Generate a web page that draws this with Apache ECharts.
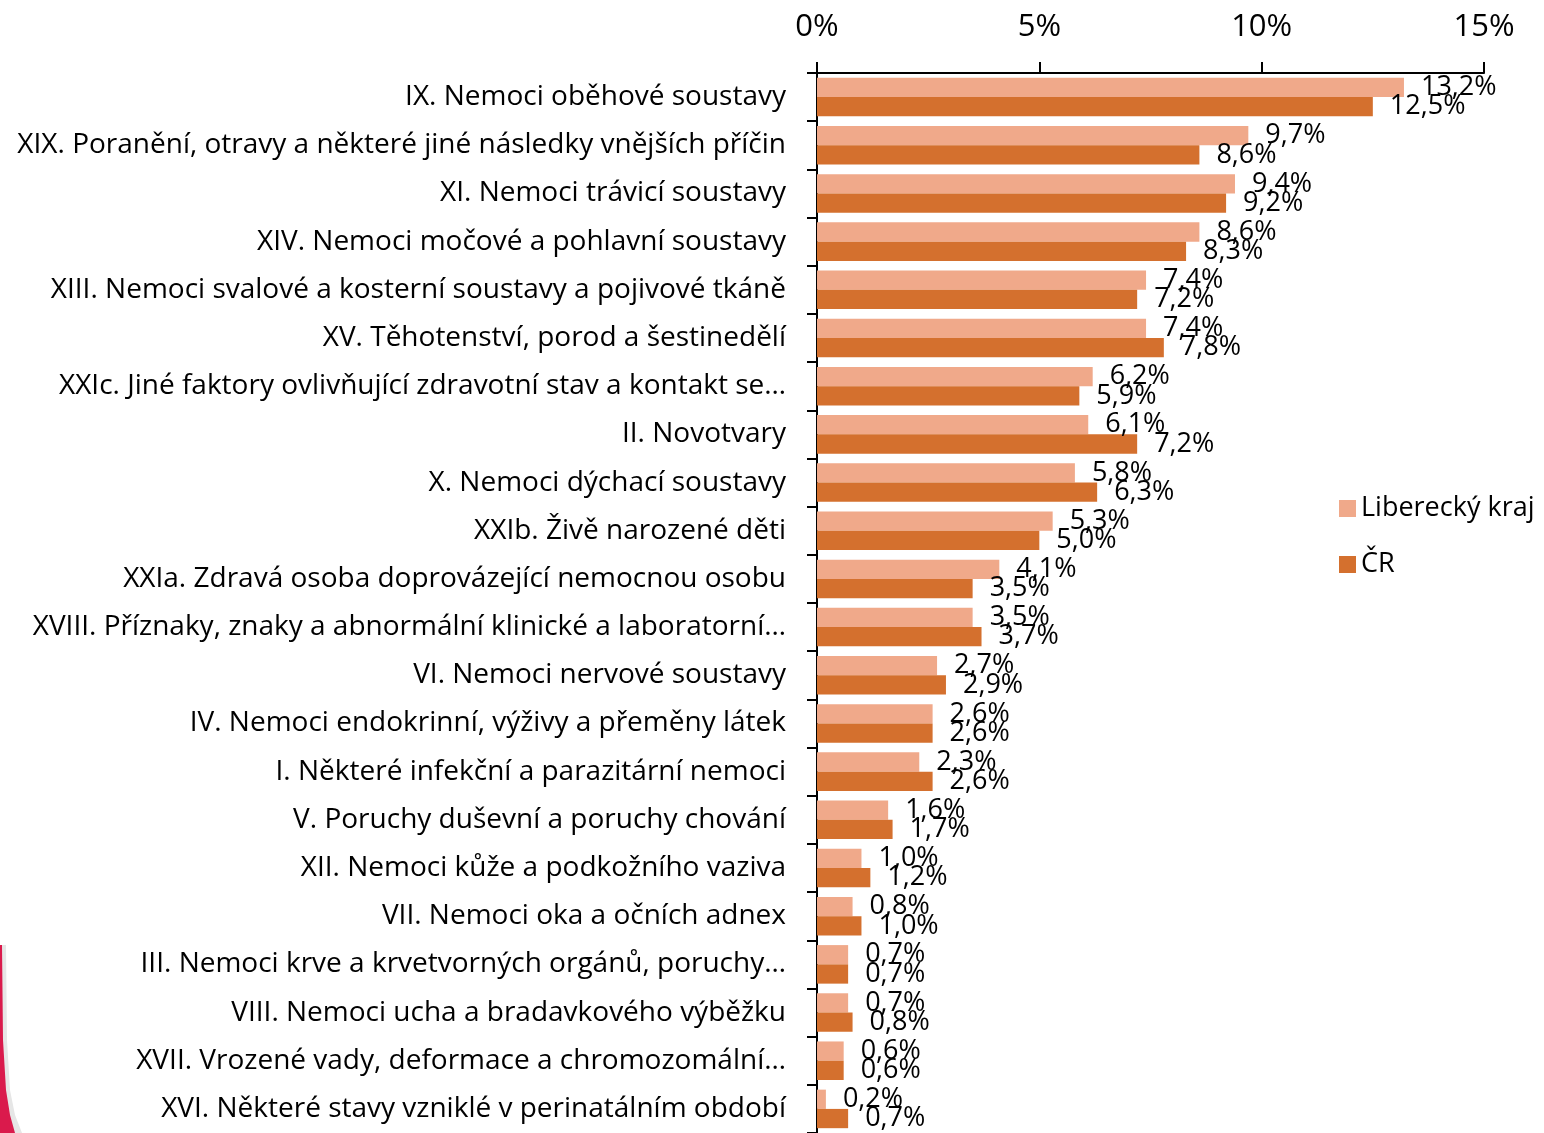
<!DOCTYPE html>
<html>
<head>
<meta charset="utf-8">
<script src="https://cdn.jsdelivr.net/npm/echarts@6/dist/echarts.min.js"></script>
<style>
html,body{margin:0;padding:0;background:#fff;}
#chart{width:1544px;height:1133px;}
</style>
</head>
<body>
<div id="chart"></div>
<script>
const categories = [
  "IX. Nemoci oběhové soustavy",
  "XIX. Poranění, otravy a některé jiné následky vnějších příčin",
  "XI. Nemoci trávicí soustavy",
  "XIV. Nemoci močové a pohlavní soustavy",
  "XIII. Nemoci svalové a kosterní soustavy a pojivové tkáně",
  "XV. Těhotenství, porod a šestinedělí",
  "XXIc. Jiné faktory ovlivňující zdravotní stav a kontakt se…",
  "II. Novotvary",
  "X. Nemoci dýchací soustavy",
  "XXIb. Živě narozené děti",
  "XXIa. Zdravá osoba doprovázející nemocnou osobu",
  "XVIII. Příznaky, znaky a abnormální klinické a laboratorní…",
  "VI. Nemoci nervové soustavy",
  "IV. Nemoci endokrinní, výživy a přeměny látek",
  "I. Některé infekční a parazitární nemoci",
  "V. Poruchy duševní a poruchy chování",
  "XII. Nemoci kůže a podkožního vaziva",
  "VII. Nemoci oka a očních adnex",
  "III. Nemoci krve a krvetvorných orgánů, poruchy…",
  "VIII. Nemoci ucha a bradavkového výběžku",
  "XVII. Vrozené vady, deformace a chromozomální…",
  "XVI. Některé stavy vzniklé v perinatálním období"
];
const seriesNames = ["Liberecký kraj", "ČR"];
const liberecky = [13.2, 9.7, 9.4, 8.6, 7.4, 7.4, 6.2, 6.1, 5.8, 5.3, 4.1, 3.5, 2.7, 2.6, 2.3, 1.6, 1.0, 0.8, 0.7, 0.7, 0.6, 0.2];
const cr = [12.5, 8.6, 9.2, 8.3, 7.2, 7.8, 5.9, 7.2, 6.3, 5.0, 3.5, 3.7, 2.9, 2.6, 2.6, 1.7, 1.2, 1.0, 0.7, 0.8, 0.6, 0.7];
const xTicks = [0, 5, 10, 15];

const FONT = '"Open Sans", "Noto Sans", sans-serif';
const fmt = v => v.toFixed(1).replace('.', ',') + '%';

const chart = echarts.init(document.getElementById('chart'), null, {renderer: 'canvas'});
const labelStyle = {
  show: true, position: 'right', distance: 17,
  color: '#000', fontSize: 27, fontFamily: FONT,
  formatter: p => fmt(p.value)
};
chart.setOption({
  animation: false,
  textStyle: {fontFamily: FONT},
  graphic: [
    {type: 'polygon', shape: {points: [[0,945],[6,945],[7,1040],[10,1090],[15,1115],[22,1133],[0,1133]]}, style: {fill: '#e6e6e6'}, z: 0},
    {type: 'polygon', shape: {points: [[0,945],[2,945],[3,1040],[6,1090],[10,1115],[15,1133],[0,1133]]}, style: {fill: '#DA1A4C'}, z: 1}
  ],
  legend: {
    orient: 'vertical', left: 1334, top: 490,
    itemWidth: 17, itemHeight: 17, itemGap: 29,
    icon: 'rect',
    textStyle: {fontSize: 27, color: '#000', fontFamily: FONT},
    data: seriesNames
  },
  grid: {left: 817, right: 60, top: 73, bottom: 0, containLabel: false},
  xAxis: {
    type: 'value', position: 'top', min: xTicks[0], max: xTicks[xTicks.length - 1], interval: 5,
    axisLine: {show: true, lineStyle: {color: '#000', width: 2}},
    axisTick: {show: true, length: 11, lineStyle: {color: '#000', width: 2}},
    splitLine: {show: false},
    axisLabel: {fontSize: 31, color: '#000', margin: 30, fontFamily: FONT, formatter: v => v + '%'}
  },
  yAxis: {
    type: 'category', inverse: true, data: categories,
    axisLine: {show: true, lineStyle: {color: '#000', width: 2}},
    axisTick: {show: true, length: 10, lineStyle: {color: '#000', width: 2}},
    axisLabel: {fontSize: 28, color: '#000', margin: 31, fontFamily: FONT}
  },
  series: [
    {name: seriesNames[0], type: 'bar', data: liberecky, barGap: '0%', barCategoryGap: '20%',
     itemStyle: {color: '#F0A98A'}, label: labelStyle},
    {name: seriesNames[1], type: 'bar', data: cr, barGap: '0%', barCategoryGap: '20%',
     itemStyle: {color: '#D4702E'}, label: labelStyle}
  ]
});
</script>
</body>
</html>
